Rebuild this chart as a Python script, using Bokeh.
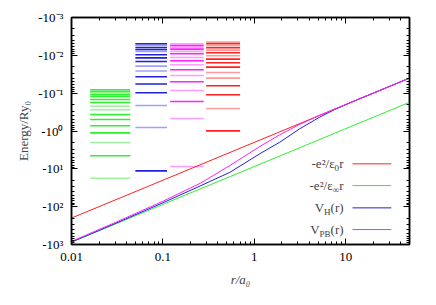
from bokeh.plotting import figure
from bokeh.models import Range1d, LogAxis, FixedTicker, CustomJSTickFormatter, Label
from bokeh.embed import file_html
from bokeh.resources import INLINE

# ---------------- data ----------------
x_ticks = [0.01, 0.1, 1, 10]
x_tick_labels = ["0.01", "0.1", "1", "10"]
y_ticks = [1e-3, 1e-2, 1e-1, 1, 10, 100, 1000]
y_tick_labels = ["-10⁻³", "-10⁻²", "-10⁻¹", "-10⁰", "-10¹", "-10²", "-10³"]

# |Energy| in Ry0 (plotted as negative energies on a reversed log axis)
r_line = [0.01, 50]
E_eps0 = [200, 0.04]        # -e^2/eps0 r
E_epsinf = [870, 0.174]     # -e^2/epsinf r

r_H = [0.01, 0.03, 0.1, 0.26, 0.54, 1.15, 1.9, 3.14, 5.2, 7.6, 12, 50]
E_H = [860, 280, 79, 27.9, 12.4, 4.0, 1.98, 0.876, 0.431, 0.27, 0.167, 0.04]

r_PB = [0.01, 0.03, 0.1, 0.26, 0.54, 1.15, 1.9, 3.14, 5.2, 50]
E_PB = [830, 263, 72, 23.7, 8.2, 2.57, 1.26, 0.67, 0.385, 0.04]

# energy levels (|E|, Ry0) for each column, with light-tint flags
lev_green = [17.7, 4.53, 2.01, 1.12, 0.728, 0.496, 0.366, 0.275, 0.221, 0.176,
             0.147, 0.122, 0.110, 0.100, 0.090, 0.081]
lt_green = [1, 0, 1, 0, 0, 0, 0, 1, 1, 0, 0, 0, 0, 1, 0, 0]
lev_blue = [11.3, 0.808, 0.211, 0.0976, 0.057, 0.0368, 0.0259, 0.0193, 0.0145,
            0.0117, 0.00964, 0.00788, 0.00698, 0.00618, 0.00547, 0.00493]
lt_blue = [0, 1, 1, 0, 0, 0, 1, 1, 0, 0, 0, 1, 0, 0, 1, 0]
lev_mag = [8.69, 0.467, 0.166, 0.0848, 0.0499, 0.034, 0.024, 0.0177, 0.0139,
           0.0114, 0.00908, 0.00788, 0.00686, 0.00607, 0.00547, 0.00493]
lt_mag = [1, 1, 0, 1, 0, 1, 0, 1, 0, 1, 0, 1, 0, 1, 0, 1]
lev_red = [0.99, 0.254, 0.110, 0.0637, 0.0401, 0.0283, 0.0205, 0.0157, 0.0126,
           0.0103, 0.00853, 0.00728, 0.00630, 0.00557, 0.00493, 0.00448]
lt_red = [0, 1, 0, 0, 1, 1, 0, 0, 0, 1, 0, 1, 0, 1, 0, 1]

# column extents in r/a0
col_green = (0.016, 0.044)
col_blue = (0.05, 0.111)
col_mag = (0.12, 0.28)
col_red = (0.297, 0.70)

# ---------------- styles ----------------
RED, LRED = "#ff2020", "#ff9a9a"
GREEN, LGREEN = "#30ee30", "#a0f0a0"
BLUE, LBLUE = "#2020e0", "#a0a0f8"
MAG, LMAG = "#ff20ff", "#ff9cff"
FONT = "Liberation Serif"

W, H = 430, 300
p = figure(width=W, height=H, x_axis_type="log", y_axis_type="log",
           x_range=Range1d(0.01, 50), y_range=Range1d(1000, 0.001),
           output_backend="svg", toolbar_location=None,
           min_border_left=71, min_border_right=W - 409, min_border_top=17,
           min_border_bottom=H - 244)
p.xgrid.visible = False
p.ygrid.visible = False
p.outline_line_color = "black"
p.outline_line_width = 1.5
p.background_fill_color = "white"
p.border_fill_color = "white"

x_minor = [m * 10.0 ** k for k in range(-2, 2) for m in range(2, 10) if m * 10.0 ** k <= 50]
y_minor = [m * 10.0 ** k for k in range(-3, 3) for m in range(2, 10)]
xt = FixedTicker(ticks=x_ticks, minor_ticks=x_minor)
yt = FixedTicker(ticks=y_ticks, minor_ticks=y_minor)

code = """
for (let i = 0; i < vals.length; i++) {
  if (Math.abs(Math.log10(tick) - Math.log10(vals[i])) < 1e-6) return labels[i];
}
return "";
"""
xf = CustomJSTickFormatter(args=dict(vals=x_ticks, labels=x_tick_labels), code=code)
yf = CustomJSTickFormatter(args=dict(vals=y_ticks, labels=y_tick_labels), code=code)


def style_axis(ax, show):
    ax.axis_line_color = "black"
    ax.axis_line_width = 1.5
    ax.major_tick_in = 6
    ax.major_tick_out = 0
    ax.minor_tick_in = 3
    ax.minor_tick_out = 0
    ax.major_tick_line_color = "black"
    ax.minor_tick_line_color = "black"
    ax.major_label_text_font = FONT
    ax.major_label_text_color = "black"
    if show:
        ax.major_label_text_font_size = "13px"
        ax.major_label_standoff = 8
    else:
        ax.major_label_text_font_size = "0px"
        ax.major_label_standoff = 0


xa = p.xaxis[0]
xa.ticker = xt
xa.formatter = xf
style_axis(xa, True)
xa.axis_label = "r/a₀"
xa.axis_label_text_font = FONT
xa.axis_label_text_font_size = "13px"
xa.axis_label_text_font_style = "italic"
xa.axis_label_standoff = 8

ya = p.yaxis[0]
ya.ticker = yt
ya.formatter = yf
style_axis(ya, True)
ya.axis_label = "Energy/Ry₀"
ya.axis_label_text_font = FONT
ya.axis_label_text_font_size = "13px"
ya.axis_label_text_font_style = "normal"
ya.axis_label_standoff = 4

empty = CustomJSTickFormatter(code="return '';")
top = LogAxis(ticker=xt, formatter=empty)
style_axis(top, False)
p.add_layout(top, "above")
right = LogAxis(ticker=yt, formatter=empty)
style_axis(right, False)
p.add_layout(right, "right")

# ---------------- levels ----------------
for levs, flags, col, dark, light in [
    (lev_green, lt_green, col_green, GREEN, LGREEN),
    (lev_blue, lt_blue, col_blue, BLUE, LBLUE),
    (lev_mag, lt_mag, col_mag, MAG, LMAG),
    (lev_red, lt_red, col_red, RED, LRED),
]:
    colors = [light if f else dark for f in flags]
    p.segment(x0=[col[0]] * len(levs), x1=[col[1]] * len(levs), y0=levs, y1=levs,
              line_color=colors, line_width=1.6)

# ---------------- curves ----------------
p.line(r_line, E_eps0, line_color=RED, line_width=1)
p.line(r_line, E_epsinf, line_color=GREEN, line_width=1)
p.line(r_H, E_H, line_color=BLUE, line_width=1)
p.line(r_PB, E_PB, line_color=MAG, line_width=1)

# ---------------- legend (gnuplot style: text left, sample right) ----------------
leg_rows = [
    ("-e²/ε", "0", "r", RED, 7.38, 9),
    ("-e²/ε", "∞", "r", GREEN, 27.7, 11),
    ("V", "H", "(r)", BLUE, 107.6, 19.5),
    ("V", "PB", "(r)", MAG, 403, 24),
]
leg_text_x = 9.5
leg_line = (11.9, 31.6)
for main, sub, tail, color, yv, moff in leg_rows:
    tail_w = 4.5 if tail == "r" else 13
    p.add_layout(Label(x=leg_text_x, y=yv, text=tail, text_align="right",
                       text_baseline="middle", text_font=FONT, text_font_size="13px"))
    p.add_layout(Label(x=leg_text_x, y=yv, text=sub, text_align="right",
                       x_offset=-tail_w, y_offset=-4,
                       text_baseline="middle", text_font=FONT, text_font_size="9px"))
    p.add_layout(Label(x=leg_text_x, y=yv, text=main, text_align="right",
                       x_offset=-moff, text_baseline="middle", text_font=FONT,
                       text_font_size="13px"))
    p.segment(x0=[leg_line[0]], x1=[leg_line[1]], y0=[yv], y1=[yv],
              line_color=color, line_width=1)

open("out.html", "w").write(file_html(p, INLINE))
